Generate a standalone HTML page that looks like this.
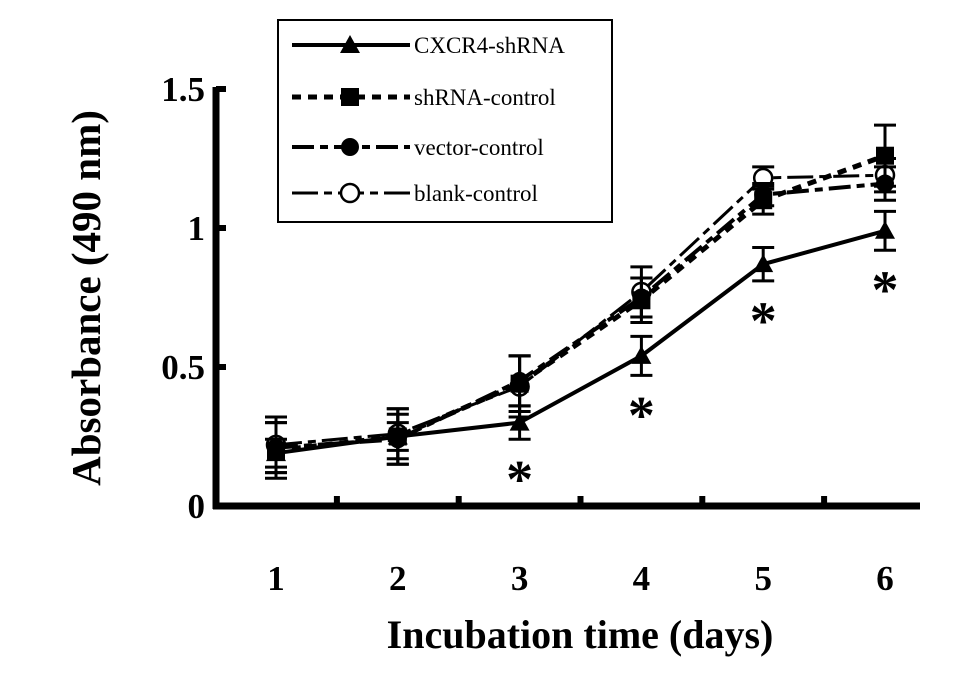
<!DOCTYPE html>
<html><head><meta charset="utf-8"><style>
body{margin:0;background:#fff;}
svg{display:block;font-family:"Liberation Serif",serif;}
</style></head><body>
<svg id="chart" width="980" height="683" viewBox="0 0 980 683">
<g id="axes"></g><g id="series"></g><g id="legend"></g>
</svg>
<script>
const days=[1,2,3,4,5,6];
const yTicks=[0,0.5,1,1.5];
const yTickLabels=["0","0.5","1","1.5"];
const cxcr4=[0.19,0.25,0.30,0.54,0.87,0.99];
const cxcr4Err=[0.05,0.05,0.06,0.07,0.06,0.07];
const shCtrl=[0.20,0.25,0.44,0.74,1.10,1.26];
const shCtrlErr=[0.10,0.10,0.10,0.08,0.05,0.11];
const vecCtrl=[0.21,0.24,0.45,0.75,1.12,1.16];
const vecCtrlErr=[0.09,0.09,0.09,0.07,0.04,0.06];
const blankCtrl=[0.22,0.26,0.43,0.77,1.18,1.19];
const blankCtrlErr=[0.10,0.09,0.11,0.09,0.04,0.06];
const sigDays=[3,4,5,6];

const NS="http://www.w3.org/2000/svg";
const xS=d=>276+(d-1)*121.8;
const yS=v=>506-v*278;
function mk(tag,attrs,parent,text){const e=document.createElementNS(NS,tag);for(const k in attrs)e.setAttribute(k,attrs[k]);if(text!==undefined)e.textContent=text;parent.appendChild(e);return e;}
const axes=document.getElementById('axes'),ser=document.getElementById('series'),leg=document.getElementById('legend');

let ya=mk('line',{x1:216,y1:yS(1.5)-2,x2:216,y2:509,stroke:'#000','stroke-width':7},axes);

let xa=mk('line',{x1:213,y1:506,x2:920,y2:506,stroke:'#000','stroke-width':7},axes);

yTicks.forEach((t,i)=>{
  if(t>0){let tk=mk('line',{x1:216,y1:yS(t),x2:226,y2:yS(t),stroke:'#000','stroke-width':6},axes);
  }
  let l=mk('text',{x:205,y:yS(t)+12,'text-anchor':'end','font-size':35,'font-weight':'bold'},axes,yTickLabels[i]);
  
});
days.forEach((d,i)=>{
  if(i<days.length-1){let tk=mk('line',{x1:xS(d+0.5),y1:506,x2:xS(d+0.5),y2:496,stroke:'#000','stroke-width':6},axes);
  }
  let l=mk('text',{x:xS(d),y:590,'text-anchor':'middle','font-size':35,'font-weight':'bold'},axes,String(d));
  
});
let xt=mk('text',{x:580,y:648,'text-anchor':'middle','font-size':40,'font-weight':'bold'},axes,'Incubation time (days)');

let yt=mk('text',{x:0,y:0,transform:'translate(100,298) rotate(-90)','text-anchor':'middle','font-size':41,'font-weight':'bold'},axes,'Absorbance (490 nm)');


const series=[
 {name:'blank-control',vals:blankCtrl,err:blankCtrlErr,dash:'26 6 8 6',w:3,m:'ocircle'},
 {name:'vector-control',vals:vecCtrl,err:vecCtrlErr,dash:'22 6 8 6',w:4,m:'circle'},
 {name:'shRNA-control',vals:shCtrl,err:shCtrlErr,dash:'9 7',w:5,m:'square'},
 {name:'CXCR4-shRNA',vals:cxcr4,err:cxcr4Err,dash:'',w:4,m:'triangle'}
];
function marker(type,x,y,p){
  let e;
  if(type==='triangle')e=mk('polygon',{points:`${x},${y-10} ${x-10},${y+8} ${x+10},${y+8}`,fill:'#000'},p);
  else if(type==='square')e=mk('rect',{x:x-9,y:y-9,width:18,height:18,fill:'#000'},p);
  else if(type==='circle')e=mk('circle',{cx:x,cy:y,r:9,fill:'#000'},p);
  else e=mk('circle',{cx:x,cy:y,r:9,fill:'#fff',stroke:'#000','stroke-width':2.5},p);
  return e;
}
series.forEach(s=>{
  const g=mk('g',{},ser);
  
  const pts=days.map((d,i)=>xS(d)+','+yS(s.vals[i])).join(' ');
  const pl=mk('polyline',{points:pts,fill:'none',stroke:'#000','stroke-width':s.w,'stroke-dasharray':s.dash},g);
  
  days.forEach((d,i)=>{
    const x=xS(d),y1=yS(s.vals[i]+s.err[i]),y2=yS(s.vals[i]-s.err[i]);
    const eb=mk('path',{d:`M${x},${y1}V${y2}M${x-11},${y1}H${x+11}M${x-11},${y2}H${x+11}`,stroke:'#000','stroke-width':3,fill:'none'},g);
    
    const m=marker(s.m,x,yS(s.vals[i]),g);
    
  });
});
sigDays.forEach(d=>{
  const i=days.indexOf(d);
  const a=mk('text',{x:xS(d),y:yS(cxcr4[i]-cxcr4Err[i])+58,'text-anchor':'middle','font-size':54,'font-weight':'bold'},ser,'*');
  
});
const box=mk('rect',{x:278,y:20,width:334,height:202,fill:'#fff',stroke:'#000','stroke-width':2},leg);

const legOrder=[3,2,1,0],legY=[45,97,147,193];
legOrder.forEach((si,k)=>{
  const s=series[si],y=legY[k];
  const g=mk('g',{},leg);
  
  mk('line',{x1:292,y1:y,x2:410,y2:y,stroke:'#000','stroke-width':s.w,'stroke-dasharray':s.dash},g);
  marker(s.m,350,y,g);
  mk('text',{x:414,y:y+8,'font-size':23},g,s.name);
});
</script>
</body></html>
